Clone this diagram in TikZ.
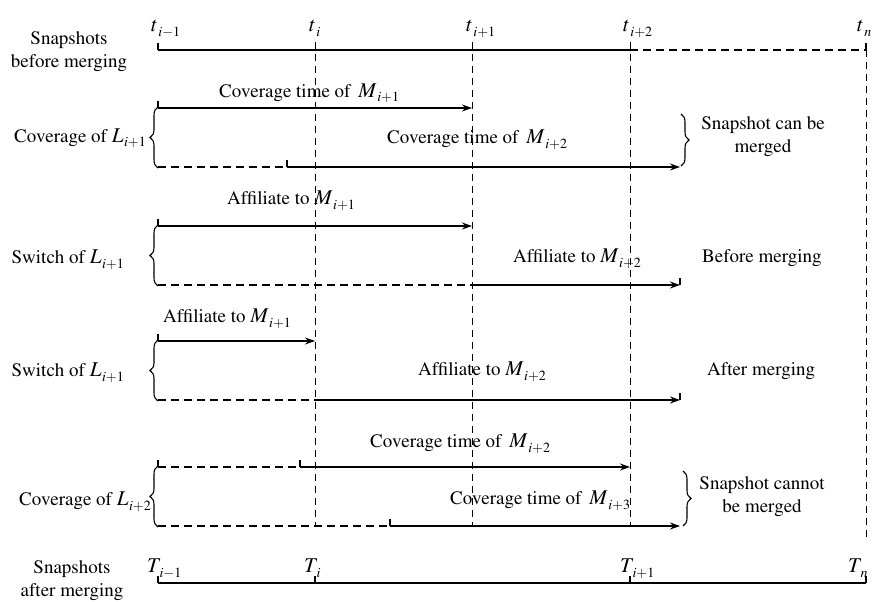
\documentclass[tikz,border=0pt]{standalone}
\usepackage[T1]{fontenc}
\usepackage{mathptmx}
\usetikzlibrary{arrows.meta,decorations.pathreplacing}

% italic symbol with a lowered subscript (optional kern before the subscript)
\newcommand\var[3][0.5pt]{{\fontsize{21}{21}\selectfont$#2$}\kern#1\raisebox{-5pt}{\fontsize{14}{14}\selectfont$#3$}}

\tikzset{
  axisline/.style={line width=1.2pt},
  guide/.style={line width=1pt, dash pattern=on 7pt off 5pt},
  gapline/.style={line width=1.2pt, dash pattern=on 8pt off 5pt},
  span/.style={line width=1.2pt, -{Stealth[length=10pt,width=7pt]}},
  tick/.style={line width=1.2pt},
  curly/.style={decorate, decoration={brace, amplitude=8pt}, line width=1.1pt},
  lbl/.style={inner sep=0pt, font=\fontsize{19}{23}\selectfont},
}

\begin{document}
\begin{tikzpicture}[x=1pt,y=-1pt]
\useasboundingbox (0,0) rectangle (876,602);

% ---------- time axes ----------
\coordinate (tA) at (158,50);
\coordinate (tB) at (315,50);
\coordinate (tC) at (472,50);
\coordinate (tD) at (630,50);
\coordinate (tN) at (866,50);
\coordinate (bA) at (158,583);
\coordinate (bB) at (315,583);
\coordinate (bD) at (630,583);
\coordinate (bN) at (866,583);

\draw[axisline] (tA) -- (tD);
\draw[gapline] (tD) -- (tN);
\draw[axisline] (bA) -- (bN);
\foreach \p in {tA,tN,bA,bB,bD,bN} \draw[tick] (\p) -- ++(0,-7);

% vertical guides
\coordinate (gB) at (315,42);  \coordinate (gB2) at (315,527);
\coordinate (gC) at (472,42);  \coordinate (gC2) at (472,527);
\coordinate (gD) at (630,42);  \coordinate (gD2) at (630,527);
\coordinate (gN) at (866,50);  \coordinate (gN2) at (866,540);
\draw[guide] (gB) -- (gB2);
\draw[guide] (gC) -- (gC2);
\draw[guide] (gD) -- (gD2);
\draw[guide] (gN) -- (gN2);

% axis labels
\node[lbl, anchor=base west] (lt1) at (151,32) {\var{t}{i{-}1}};
\node[lbl, anchor=base west] (lt2) at (309,32) {\var{t}{i}};
\node[lbl, anchor=base west] (lt3) at (466,32) {\var{t}{i{+}1}};
\node[lbl, anchor=base west] (lt4) at (623,32) {\var{t}{i{+}2}};
\node[lbl, anchor=base west] (lt5) at (857,32) {\var{t}{n}};
\node[lbl, anchor=base west] (lT1) at (147,572) {\var[-2pt]{T}{i{-}1}};
\node[lbl, anchor=base west] (lT2) at (304,572) {\var[-2pt]{T}{i}};
\node[lbl, anchor=base west] (lT3) at (620,572) {\var[-2pt]{T}{i{+}1}};
\node[lbl, anchor=base west] (lT4) at (848,572) {\var[-2pt]{T}{n}};

\node[lbl, align=center] (snapB) at (69,52) {Snapshots\\before merging};
\node[lbl, align=center] (snapA) at (72,581) {Snapshots\\after merging};

% ---------- row 1: coverage of L_{i+1} ----------
\coordinate (r1a) at (158,108); \coordinate (r1b) at (472,108);
\coordinate (r1c) at (158,167); \coordinate (r1d) at (287,167); \coordinate (r1e) at (680,167);
\draw[tick] (r1a) -- ++(0,-7);
\draw[span] (r1a) -- (r1b);
\draw[gapline] (r1c) -- (r1d);
\draw[tick] (r1d) -- ++(0,-7);
\draw[span] (r1d) -- (r1e);
\draw[curly] (158,168) -- (158,107);
\draw[curly] (681,114) -- (681,166);
\node[lbl, anchor=base west] (c1) at (219,97) {Coverage time of\, \var{M}{i{+}1}};
\node[lbl, anchor=base west] (c2) at (387,143) {Coverage time of\, \var{M}{i{+}2}};
\node[lbl, anchor=base east] (row1) at (146,142) {Coverage of \var{L}{i{+}1}};
\node[lbl, align=center] (can) at (763,137) {Snapshot can be\\merged};

% ---------- row 2: switch of L_{i+1}, before merging ----------
\coordinate (r2a) at (158,226); \coordinate (r2b) at (472,226);
\coordinate (r2c) at (158,285); \coordinate (r2d) at (472,285); \coordinate (r2e) at (680,285);
\draw[tick] (r2a) -- ++(0,-7);
\draw[span] (r2a) -- (r2b);
\draw[gapline] (r2c) -- (r2d);
\draw[span] (r2d) -- (r2e);
\draw[tick] (r2e) -- ++(0,-7);
\draw[curly] (158,286) -- (158,225);
\node[lbl, anchor=base west] (a1) at (227,204) {Affiliate to \var{M}{i{+}1}};
\node[lbl, anchor=base west] (a2) at (513,262) {Affiliate to \var{M}{i{+}2}};
\node[lbl, anchor=base east] (row2) at (124,263) {Switch of \var{L}{i{+}1}};
\node[lbl, anchor=base west] (bef) at (702,262) {Before merging};

% ---------- row 3: switch of L_{i+1}, after merging ----------
\coordinate (r3a) at (158,341); \coordinate (r3b) at (315,341);
\coordinate (r3c) at (158,400); \coordinate (r3d) at (315,400); \coordinate (r3e) at (680,400);
\draw[tick] (r3a) -- ++(0,-7);
\draw[span] (r3a) -- (r3b);
\draw[gapline] (r3c) -- (r3d);
\draw[span] (r3d) -- (r3e);
\draw[tick] (r3e) -- ++(0,-7);
\draw[curly] (158,401) -- (158,340);
\node[lbl, anchor=base west] (a3) at (163,322) {Affiliate to \var{M}{i{+}1}};
\node[lbl, anchor=base west] (a4) at (418,375) {Affiliate to \var{M}{i{+}2}};
\node[lbl, anchor=base east] (row3) at (124,376) {Switch of \var{L}{i{+}1}};
\node[lbl, anchor=base west] (aft) at (707,375) {After merging};

% ---------- row 4: coverage of L_{i+2} ----------
\coordinate (r4a) at (158,467); \coordinate (r4b) at (300,467); \coordinate (r4c) at (630,467);
\coordinate (r4d) at (158,526); \coordinate (r4e) at (390,526); \coordinate (r4f) at (680,526);
\draw[tick] (r4a) -- ++(0,-7);
\draw[gapline] (r4a) -- (r4b);
\draw[tick] (r4b) -- ++(0,-7);
\draw[span] (r4b) -- (r4c);
\draw[gapline] (r4d) -- (r4e);
\draw[tick] (r4e) -- ++(0,-7);
\draw[span] (r4e) -- (r4f);
\draw[curly] (158,527) -- (158,466);
\draw[curly] (683,471) -- (683,526);
\node[lbl, anchor=base west] (c3) at (370,447) {Coverage time of\, \var{M}{i{+}2}};
\node[lbl, anchor=base west] (c4) at (450,504) {Coverage time of\, \var{M}{i{+}3}};
\node[lbl, anchor=base east] (row4) at (151,505) {Coverage of \var{L}{i{+}2}};
\node[lbl, align=center] (cannot) at (762,497) {Snapshot cannot\\be merged};

\end{tikzpicture}
\end{document}
